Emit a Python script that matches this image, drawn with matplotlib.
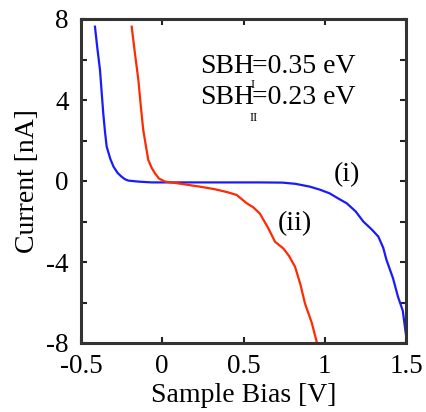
import matplotlib
matplotlib.use("Agg")
import matplotlib.pyplot as plt

plt.rcParams['font.family'] = ['Liberation Serif', 'DejaVu Serif']
plt.rcParams['axes.unicode_minus'] = False

# Curve (i) - blue
bias_i = [-0.414, -0.40, -0.383, -0.373, -0.363, -0.352, -0.342, -0.32, -0.30, -0.275, -0.25, -0.23,
          -0.209, -0.147, -0.065, 0.2, 0.4, 0.6, 0.74, 0.82, 0.909, 0.971, 1.03, 1.08, 1.135, 1.19,
          1.237, 1.29, 1.33, 1.36, 1.38, 1.42, 1.45, 1.48, 1.5]
current_i = [7.62, 6.6, 5.48, 4.4, 3.34, 2.4, 1.7, 1.1, 0.71, 0.4, 0.21, 0.09,
             0.02, -0.03, -0.07, -0.07, -0.07, -0.07, -0.08, -0.14, -0.28, -0.43, -0.61, -0.85, -1.1, -1.5,
             -2.0, -2.4, -2.75, -3.3, -3.9, -4.8, -5.7, -6.4, -7.6]

# Curve (ii) - red
bias_ii = [-0.188, -0.168, -0.147, -0.132, -0.117, -0.10, -0.086, -0.065, -0.045, -0.02, 0.017, 0.1,
           0.232, 0.32, 0.40, 0.458, 0.52, 0.56, 0.60, 0.653, 0.694, 0.745, 0.78, 0.817, 0.85, 0.878,
           0.92, 0.95]
current_ii = [7.62, 6.3, 4.99, 3.7, 2.52, 1.7, 1.04, 0.65, 0.38, 0.12, -0.03, -0.12,
              -0.28, -0.4, -0.55, -0.69, -1.1, -1.3, -1.6, -2.34, -3.0, -3.33, -3.7, -4.23, -5.1, -6.04,
              -7.0, -7.93]

xticks = [-0.5, 0, 0.5, 1, 1.5]
xticklabels = ['-0.5', '0', '0.5', '1', '1.5']
yticks = [-8, -6, -4, -2, 0, 2, 4, 6, 8]
yticklabels = ['-8', '', '-4', '', '0', '', '4', '', '8']

fig = plt.figure(figsize=(4.26, 4.12), dpi=100)
ax = fig.add_axes([81/426, 1-343/412, 325/426, 324/412])

ax.plot(bias_i, current_i, color='#1a1aff', lw=1.6)
ax.plot(bias_ii, current_ii, color='#ff2a00', lw=1.6)

ax.set_xlim(-0.5, 1.5)
ax.set_ylim(-8, 8)
ax.set_xticks(xticks)
ax.set_xticklabels(xticklabels)
ax.set_yticks(yticks)
ax.set_yticklabels(yticklabels)
ax.tick_params(direction='in', length=4, width=1.5, top=True, right=True,
               labelsize=19.5, color='#222222')
ax.tick_params(axis='x', pad=8)
ax.tick_params(axis='y', pad=9)
for s in ax.spines.values():
    s.set_linewidth(2.2)
    s.set_color('#333333')

ax.set_xlabel('Sample Bias [V]', fontsize=20, labelpad=3)
ax.set_ylabel('Current [nA]', fontsize=20, labelpad=4)

ax.text(1.135, 0.3, '(i)', fontsize=20, ha='center', va='center')
ax.text(0.817, -2.09, '(ii)', fontsize=20, ha='center', va='center')

# SBH annotations
ax.text(0.232, 5.64, 'SBH', fontsize=20, ha='left', va='center')
ax.text(0.55, 5.64, '=0.35 eV', fontsize=20, ha='left', va='center')
ax.text(0.555, 4.75, 'I', fontsize=9, ha='center', va='center')
ax.text(0.232, 4.1, 'SBH', fontsize=20, ha='left', va='center')
ax.text(0.55, 4.1, '=0.23 eV', fontsize=20, ha='left', va='center')
ax.text(0.565, 3.1, 'II', fontsize=9, ha='center', va='center')

fig.savefig('out.png', dpi=100)
